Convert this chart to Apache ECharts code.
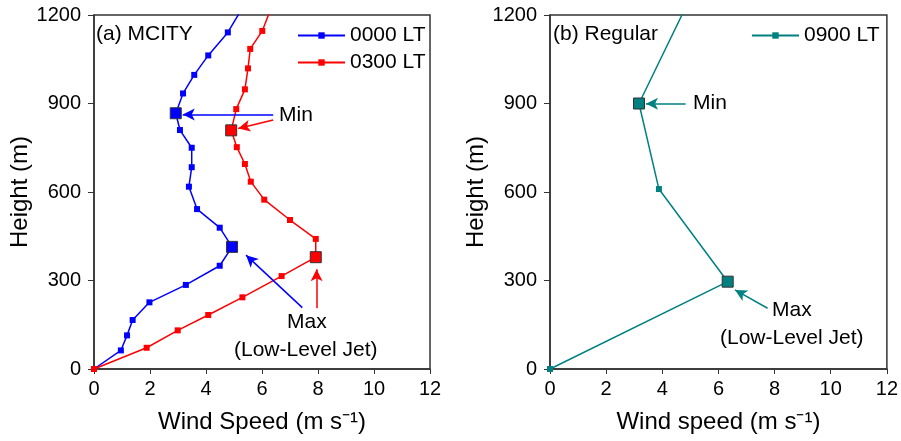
<!DOCTYPE html>
<html><head><meta charset="utf-8">
<script src="https://cdn.jsdelivr.net/npm/echarts@6/dist/echarts.min.js"></script>
<style>html,body{margin:0;padding:0;background:#fff}#c{width:901px;height:441px}</style>
</head><body><div id="c"></div>
<script>
// Panel (a) MCITY
const heights0000 = [0,63,114,166,226,285,350,414,479,542,618,684,750,810,867,934,997,1063,1141,1205];
const speed0000   = [0,0.96,1.18,1.38,1.98,3.28,4.49,4.93,4.49,3.68,3.39,3.49,3.49,3.07,2.92,3.18,3.58,4.08,4.78,5.18];
const heights0300 = [0,72,131,183,243,315,379,441,505,574,635,695,752,809,881,948,1019,1085,1146,1205];
const speed0300   = [0,1.88,2.99,4.08,5.30,6.70,7.92,7.92,7.00,6.08,5.60,5.39,5.10,4.90,5.08,5.39,5.50,5.58,6.01,6.25];
// Panel (b) Regular
const heights0900 = [0,296,610,900,1210];
const speed0900   = [0,6.33,3.88,3.17,4.75];
// highlighted points (height of Min / Max)
const min0000 = 867, max0000 = 414;
const min0300 = 809, max0300 = 379;
const min0900 = 900, max0900 = 296;
// annotation arrows [x0,y0,x1,y1] in data units
const arrowsA = [
  {c:'#0000ff', p:[6.40,863,3.17,863]},
  {c:'#ff0000', p:[6.40,844,5.15,815]},
  {c:'#0000ff', p:[7.44,208,5.43,386]},
  {c:'#ff0000', p:[7.95,206,7.95,338]}
];
const arrowsB = [
  {c:'#008080', p:[4.83,899,3.42,899]},
  {c:'#008080', p:[7.75,206,6.59,268]}
];

const FONT = 'Liberation Sans';
const chart = echarts.init(document.getElementById('c'));

function pts(xs, ys, minH, maxH, color) {
  return xs.map((x,i)=>{
    const h = ys[i];
    if (h===minH || h===maxH) return {value:[x,h], symbolSize:11, itemStyle:{color:color, borderColor:'#333', borderWidth:1}};
    return [x,h];
  });
}
function arrowLines(list) {
  return list.map(a=>[{coord:[a.p[0],a.p[1]], lineStyle:{color:a.c}}, {coord:[a.p[2],a.p[3]]}]);
}
function xAx(idx, name) {
  return {gridIndex:idx, type:'value', min:0, max:12, interval:2,
    name:name, nameLocation:'middle', nameGap:41,
    nameTextStyle:{fontFamily:FONT, fontSize:24, color:'#000'},
    axisLine:{onZero:false, lineStyle:{color:'#333', width:1.5}},
    axisTick:{inside:false, length:5, lineStyle:{color:'#333'}},
    axisLabel:{fontFamily:FONT, fontSize:20, color:'#000', margin:10, formatter:v=>String(v)},
    splitLine:{show:false}};
}
function yAx(idx, gap) {
  return {gridIndex:idx, type:'value', min:0, max:1200, interval:300,
    name:'Height (m)', nameLocation:'middle', nameGap:gap,
    nameTextStyle:{fontFamily:FONT, fontSize:24, color:'#000'},
    axisLine:{onZero:false, lineStyle:{color:'#333', width:1.5}},
    axisTick:{inside:false, length:6, lineStyle:{color:'#333'}},
    axisLabel:{fontFamily:FONT, fontSize:20, color:'#000', margin:13, formatter:v=>String(v)},
    splitLine:{show:false}};
}
function mk(name, xi, xs, ys, minH, maxH, color, arrows) {
  return {name:name, type:'line', xAxisIndex:xi, yAxisIndex:xi,
    data: pts(xs, ys, minH, maxH, color), clip:true,
    symbol:'rect', symbolSize:6, showAllSymbol:true,
    lineStyle:{color:color, width:1.5}, itemStyle:{color:color},
    emphasis:{disabled:true}, animation:false,
    markLine: arrows ? {silent:true, symbol:['none','arrow'], symbolSize:[9,12], label:{show:false},
      lineStyle:{type:'solid', width:1.5}, animation:false, data:arrowLines(arrows)} : undefined
  };
}
const T = (txt, x, y) => ({type:'text', x:x, y:y, style:{text:txt, font:'21px "Liberation Sans"', fill:'#000', textVerticalAlign:'middle', verticalAlign:'middle'}});

chart.setOption({
  animation:false,
  grid:[
    {left:94, top:15, width:336, height:354, show:true, borderColor:'#333', borderWidth:1.5, backgroundColor:'transparent'},
    {left:550, top:15, width:337, height:354, show:true, borderColor:'#333', borderWidth:1.5, backgroundColor:'transparent'}
  ],
  xAxis:[xAx(0,'Wind Speed (m s⁻¹)'), xAx(1,'Wind speed (m s⁻¹)')],
  yAxis:[yAx(0,58), yAx(1,62)],
  legend:[
    {data:['0000 LT','0300 LT'], orient:'vertical', left:297, top:25, itemWidth:47, itemHeight:8, itemGap:6, padding:0,
      textStyle:{fontFamily:FONT, fontSize:21, color:'#000'}},
    {data:['0900 LT'], orient:'vertical', left:751, top:25, itemWidth:47, itemHeight:8, padding:0,
      textStyle:{fontFamily:FONT, fontSize:21, color:'#000'}}
  ],
  series:[
    mk('0000 LT',0,speed0000,heights0000,min0000,max0000,'#0000ff',arrowsA),
    mk('0300 LT',0,speed0300,heights0300,min0300,max0300,'#ff0000',null),
    mk('0900 LT',1,speed0900,heights0900,min0900,max0900,'#008080',arrowsB)
  ],
  graphic:[
    T('(a) MCITY', 96, 34),
    T('(b) Regular', 553, 34),
    T('Min', 279, 115),
    T('Max', 287, 322),
    T('(Low-Level Jet)', 234, 350),
    T('Min', 693, 103),
    T('Max', 772, 310),
    T('(Low-Level Jet)', 720, 338)
  ]
});
</script></body></html>
